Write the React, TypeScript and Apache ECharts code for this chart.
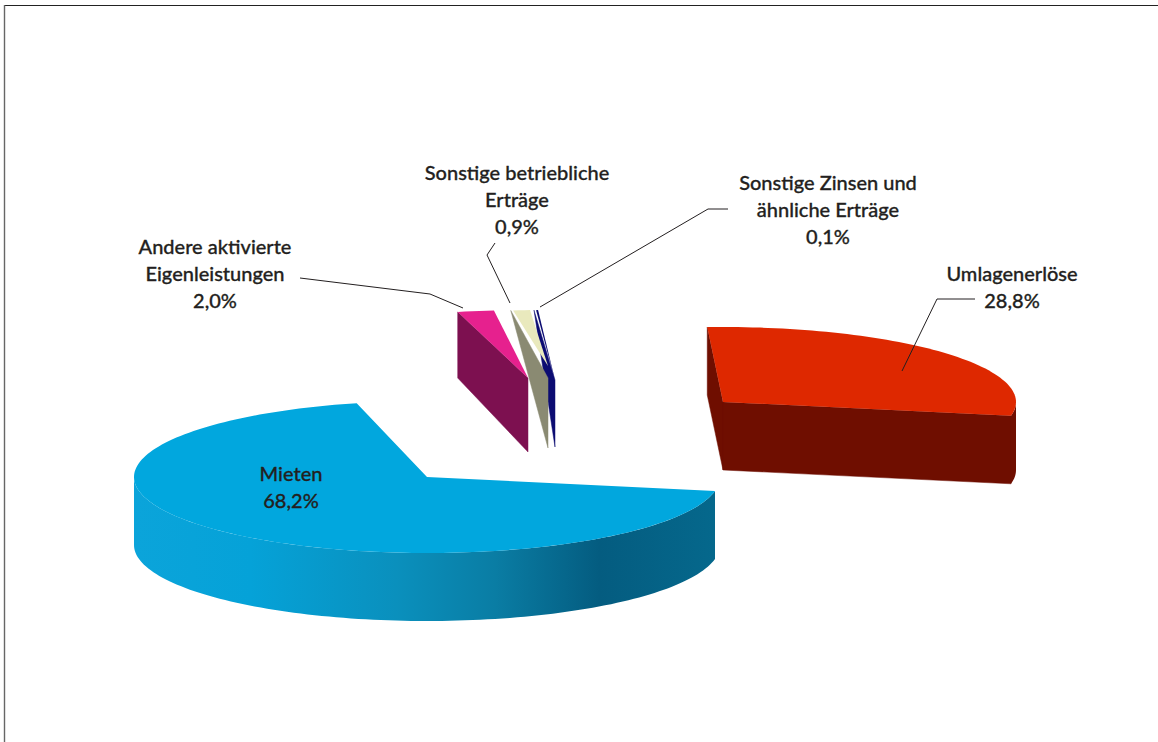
import React, { useEffect, useRef } from "react";
import * as echarts from "echarts";

// Revenue shares, in percent, clockwise from the right-hand cut of the big slice.
const categories = [
  "Mieten",
  "Andere aktivierte Eigenleistungen",
  "Sonstige betriebliche Erträge",
  "Sonstige Zinsen und ähnliche Erträge",
  "Umlagenerlöse",
];
const shares = [68.2, 2.0, 0.9, 0.1, 28.8];

const START_ANGLE = 10.6; // degrees clockwise from east
const TAU = 360;
const RX = 293;

// Back-to-front painting order, so the thin slices overlap correctly.
const paintOrder = [3, 2, 1, 4, 0];

type Ellipse = { cx: number; cy: number; rx: number; ry: number };
type SliceStyle = {
  top: Ellipse;
  body: Ellipse;
  depth: number;
  backDepth: number;
  topFill: any;
  faceFill: any;
  rimFill: any;
};

const blueRim = new echarts.graphic.LinearGradient(
  134, 0, 716, 0,
  [
    { offset: 0, color: "#0ba4da" },
    { offset: 0.2, color: "#05a2d8" },
    { offset: 0.45, color: "#0a90bd" },
    { offset: 0.62, color: "#0a7da4" },
    { offset: 0.8, color: "#045c80" },
    { offset: 1, color: "#05688c" },
  ],
  true
);

const redRim = "#6f0e00";

const sliceStyles: SliceStyle[] = [
  {
    top: { cx: 427, cy: 477, rx: RX, ry: 76 },
    body: { cx: 427, cy: 477, rx: RX, ry: 76 },
    depth: 68, backDepth: 68,
    topFill: "#01a7de", faceFill: "#0a90bd", rimFill: blueRim,
  },
  {
    top: { cx: 528, cy: 378, rx: RX, ry: 68 },
    body: { cx: 528, cy: 378, rx: RX, ry: 68 },
    depth: 74, backDepth: 66,
    topFill: "#e6218e", faceFill: "#7d1050", rimFill: "#7d1050",
  },
  {
    top: { cx: 548, cy: 366, rx: 300, ry: 56 },
    body: { cx: 548, cy: 378, rx: 320, ry: 68 },
    depth: 70, backDepth: 0,
    topFill: "#e9e9bd", faceFill: "#8a8a72", rimFill: "#8a8a72",
  },
  {
    top: { cx: 555, cy: 380, rx: 315, ry: 70 },
    body: { cx: 555, cy: 380, rx: 350, ry: 70 },
    depth: 67, backDepth: 0,
    topFill: "#0c0c72", faceFill: "#0c0c72", rimFill: "#0c0c72",
  },
  {
    top: { cx: 723, cy: 402, rx: RX, ry: 75 },
    body: { cx: 723, cy: 402, rx: RX, ry: 75 },
    depth: 68, backDepth: 68,
    topFill: "#de2800", faceFill: redRim, rimFill: redRim,
  },
];

// Label lines are placed by hand around the pie, as the pie's own labels would overlap.
const labelLayout = [
  { lines: ["Mieten"], x: 291, y: 473 },
  { lines: ["Andere aktivierte", "Eigenleistungen"], x: 215, y: 246 },
  { lines: ["Sonstige betriebliche", "Erträge"], x: 517, y: 172 },
  { lines: ["Sonstige Zinsen und", "ähnliche Erträge"], x: 828, y: 182 },
  { lines: ["Umlagenerlöse"], x: 1012, y: 273 },
];
const LINE_HEIGHT = 27;

const leaderLines = [
  [[300, 278], [430, 294], [463, 308]],
  [[495, 243], [487, 255], [510, 303]],
  [[540, 307], [708, 209], [728, 209]],
  [[975, 299], [937, 299], [902, 371]],
];

const rad = (deg: number) => (deg * Math.PI) / 180;
const pointOn = (e: Ellipse, deg: number): [number, number] => [
  e.cx + e.rx * Math.cos(rad(deg)),
  e.cy + e.ry * Math.sin(rad(deg)),
];

function sliceAngles(index: number): [number, number] {
  let a = START_ANGLE;
  for (let i = 0; i < index; i++) a += (shares[i] / 100) * TAU;
  return [a, a + (shares[index] / 100) * TAU];
}

function arcPoints(e: Ellipse, from: number, to: number): [number, number][] {
  const steps = Math.max(2, Math.ceil(Math.abs(to - from) / 1.5));
  const pts: [number, number][] = [];
  for (let i = 0; i <= steps; i++) pts.push(pointOn(e, from + ((to - from) * i) / steps));
  return pts;
}

function renderSlice(_params: any, api: any) {
  const index = api.value(0) as number;
  const style = sliceStyles[index];
  const [a, b] = sliceAngles(index);
  const { top, body, depth, backDepth } = style;
  const children: any[] = [];
  const apex: [number, number] = [body.cx, body.cy];
  const apexLow: [number, number] = [body.cx, body.cy + depth];

  const cutFace = (deg: number) => {
    const p = pointOn(body, deg);
    const points =
      backDepth > 0
        ? [apex, p, [p[0], p[1] + backDepth], apexLow]
        : [apex, p, apexLow];
    children.push({
      type: "polygon",
      shape: { points },
      style: { fill: style.faceFill, stroke: style.faceFill, lineWidth: 0.5 },
    });
  };

  // Cut faces turned towards the viewer.
  if (Math.cos(rad(a)) < 0) cutFace(a);
  if (Math.cos(rad(b)) > 0) cutFace(b);

  // Outer wall: only the part on the near half of the ellipse is visible.
  for (const k of [0, 360]) {
    const from = Math.max(a, k);
    const to = Math.min(b, k + 180);
    if (to > from) {
      const upper = arcPoints(body, from, to);
      const lower = upper.slice().reverse().map(([x, y]) => [x, y + depth]);
      children.push({
        type: "polygon",
        shape: { points: [...upper, ...lower] },
        style: { fill: style.rimFill },
      });
    }
  }

  // Top face.
  children.push({
    type: "polygon",
    shape: { points: [[top.cx, top.cy], ...arcPoints(top, a, b)] },
    style: { fill: style.topFill },
  });

  return { type: "group", children };
}

const percent = (v: number) => `${v.toFixed(1).replace(".", ",")}%`;

const TEXT_FONT = {
  fontFamily: "Lato",
  fontSize: 20,
  fontWeight: 500,
  fill: "#231f20",
  stroke: "#231f20",
  lineWidth: 0.3,
  textAlign: "center",
  textVerticalAlign: "middle",
};

function buildGraphics() {
  const elements: any[] = [
    {
      type: "line",
      shape: { x1: 4, y1: 5.5, x2: 1158, y2: 5.5 },
      style: { stroke: "#222222", lineWidth: 1 },
    },
    {
      type: "line",
      shape: { x1: 4.5, y1: 5, x2: 4.5, y2: 742 },
      style: { stroke: "#666666", lineWidth: 1.4 },
    },
  ];
  for (const line of leaderLines) {
    elements.push({
      type: "polyline",
      shape: { points: line },
      style: { stroke: "#231f20", lineWidth: 1, fill: "none" },
      z: 20,
    });
  }
  labelLayout.forEach((label, i) => {
    [...label.lines, percent(shares[i])].forEach((text, row) => {
      elements.push({
        type: "text",
        x: label.x,
        y: label.y + row * LINE_HEIGHT,
        style: { ...TEXT_FONT, text },
        z: 20,
      });
    });
  });
  return elements;
}

export default function App() {
  const ref = useRef<HTMLDivElement>(null);

  useEffect(() => {
    document.body.style.margin = "0";
    const chart = echarts.init(ref.current!, undefined, { renderer: "svg" });
    chart.setOption({
      animation: false,
      backgroundColor: "#ffffff",
      graphic: { elements: buildGraphics() },
      series: [
        {
          type: "custom",
          coordinateSystem: "none",
          renderItem: renderSlice,
          silent: true,
          data: paintOrder.map((i) => ({ name: categories[i], value: [i, shares[i]] })),
        },
      ],
    });
    return () => chart.dispose();
  }, []);

  return <div ref={ref} style={{ width: 1158, height: 742 }} />;
}
